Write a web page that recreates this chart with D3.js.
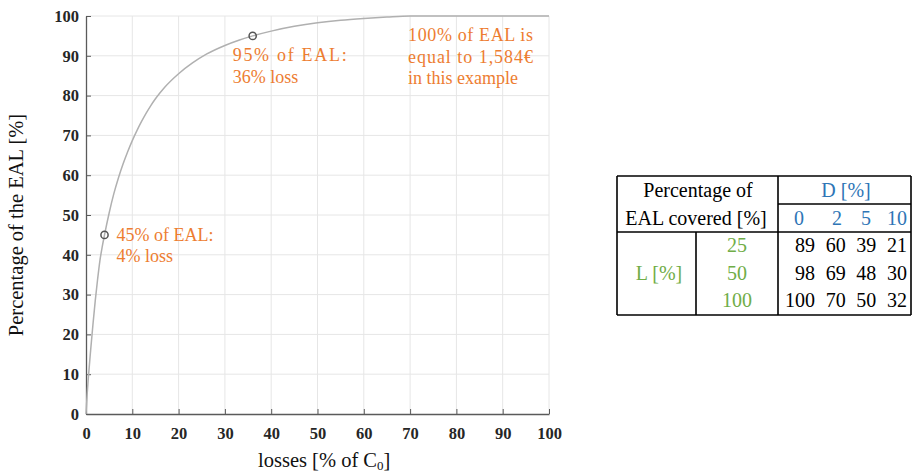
<!DOCTYPE html>
<html>
<head>
<meta charset="utf-8">
<script src="https://cdn.jsdelivr.net/npm/d3@7"></script>
<style>
  html, body { margin: 0; padding: 0; background: #fff; }
  svg { display: block; font-family: "Liberation Serif", "Times New Roman", serif; }
</style>
</head>
<body>
<svg id="chart" width="913" height="475"></svg>
<script>
// Cumulative share of the expected annual loss (EAL) versus loss level
const lossPct = [0, 0.25, 0.5, 1, 1.5, 2, 2.5, 3, 3.5, 4, 5, 6, 7, 8, 9, 10, 11, 12, 13, 14, 15, 17, 20, 23, 26, 30, 33, 36, 40, 45, 50, 55, 60, 65, 70, 80, 90, 100];
const ealPct  = [0, 5, 9, 16, 22.5, 28.5, 33.8, 38.5, 42, 45, 50.5, 55.3, 59.3, 62.8, 65.9, 68.7, 71.2, 73.5, 75.6, 77.5, 79.2, 82.1, 85.5, 88.2, 90.4, 92.6, 93.9, 95, 96.2, 97.4, 98.3, 98.95, 99.4, 99.75, 100, 100, 100, 100];

// Highlighted points and their notes
const markLoss = [4, 36];
const markEal = [45, 95];
const markNotes = [["45% of EAL:", "4% loss"], ["95%  of  EAL:", "36% loss"]];
const totalNote = ["100% of EAL is", "equal  to  1,584€", "in this example"];

const xTicks = [0, 10, 20, 30, 40, 50, 60, 70, 80, 90, 100];
const yTicks = [0, 10, 20, 30, 40, 50, 60, 70, 80, 90, 100];

// Table: share of EAL covered for deductible D and limit L
const dValues = [0, 2, 5, 10];
const lValues = [25, 50, 100];
const covered = [
  [89, 60, 39, 21],
  [98, 69, 48, 30],
  [100, 70, 50, 32]
];

const svg = d3.select("#chart");
const orange = "#ED7D31";
const blue = "#2E75B6";
const green = "#70AD47";

const x = d3.scaleLinear().domain([0, 100]).range([86, 549]);
const y = d3.scaleLinear().domain([0, 100]).range([414, 16]);

// grid
const grid = svg.append("g").attr("stroke", "#e6e6e6").attr("stroke-width", 1);
grid.selectAll("line.v").data(xTicks.filter(d => d > 0)).join("line")
  .attr("x1", d => x(d)).attr("x2", d => x(d))
  .attr("y1", y(0)).attr("y2", y(100));
grid.selectAll("line.h").data(yTicks.filter(d => d > 0)).join("line")
  .attr("x1", x(0)).attr("x2", x(100))
  .attr("y1", d => y(d)).attr("y2", d => y(d));

// axes
const xAxis = svg.append("g").attr("transform", `translate(0,${y(0)})`)
  .call(d3.axisBottom(x).tickValues(xTicks).tickSizeInner(-5).tickSizeOuter(0).tickPadding(13));
const yAxis = svg.append("g").attr("transform", `translate(${x(0)},0)`)
  .call(d3.axisLeft(y).tickValues(yTicks).tickSizeInner(-5).tickSizeOuter(0).tickPadding(7));
[xAxis, yAxis].forEach(a => {
  a.select(".domain").attr("stroke", "#5a5a5a").attr("stroke-width", 1.3);
  a.selectAll(".tick line").attr("stroke", "#5a5a5a").attr("stroke-width", 1);
  a.selectAll(".tick text").attr("fill", "#262626")
    .style("font-family", '"Liberation Serif", "Times New Roman", serif')
    .style("font-weight", "bold");
});
xAxis.selectAll(".tick text").style("font-size", "16.5px");
yAxis.selectAll(".tick text").style("font-size", "16.5px");

// curve
const line = d3.line().x((d, i) => x(lossPct[i])).y((d, i) => y(ealPct[i])).curve(d3.curveMonotoneX);
svg.append("path").datum(lossPct).attr("d", line)
  .attr("fill", "none").attr("stroke", "#b0b0b0").attr("stroke-width", 1.5);

// markers
svg.selectAll("circle.mk").data(markLoss).join("circle")
  .attr("cx", d => x(d)).attr("cy", (d, i) => y(markEal[i])).attr("r", 3.6)
  .attr("fill", "none").attr("stroke", "#555").attr("stroke-width", 1.5);

// annotations
function note(lines, x0, y0, lh, widths) {
  const t = svg.append("text").attr("fill", orange).style("font-size", "18px");
  lines.forEach((s, i) => {
    const ts = t.append("tspan").attr("x", x0).attr("y", y0 + i * lh).text(s);
    if (widths && widths[i]) ts.attr("textLength", widths[i]).attr("lengthAdjust", "spacing");
  });
}
note(markNotes[0], x(markLoss[0]) + 12, 241, 21);
note(markNotes[1], x(markLoss[1]) - 20, 61, 22, [114]);
note(totalNote, 408, 41, 21.5, [125, 125]);

// axis titles
svg.append("text")
  .attr("transform", `translate(23,${(y(0) + y(100)) / 2 + 10}) rotate(-90)`)
  .attr("text-anchor", "middle").style("font-size", "20.5px").attr("fill", "#111")
  .text("Percentage of the EAL [%]");
const xt = svg.append("text").attr("x", 258).attr("y", 467).style("font-size", "20.5px").attr("fill", "#111");
xt.append("tspan").text("losses [% of C");
xt.append("tspan").attr("dy", 3).style("font-size", "13px").text("0");
xt.append("tspan").attr("dy", -3).text("]");

// table
const tb = svg.append("g").style("font-size", "20px");
const T = { left: 617, right: 911, top: 176, mid1: 204, mid2: 232, bottom: 315, colL: 696, colV: 778 };
const rowY = d3.scalePoint().domain(lValues).range([252, 307]);
const colRight = d3.scalePoint().domain(dValues).range([815, 907]);

const lines = [
  [T.left, T.top, T.right, T.top],
  [T.left, T.bottom, T.right, T.bottom],
  [T.left, T.top, T.left, T.bottom],
  [T.right, T.top, T.right, T.bottom],
  [T.colV, T.top, T.colV, T.bottom],
  [T.colV, T.mid1, T.right, T.mid1],
  [T.left, T.mid2, T.right, T.mid2],
  [T.colL, T.mid2, T.colL, T.bottom]
];
tb.selectAll("line").data(lines).join("line")
  .attr("x1", d => d[0]).attr("y1", d => d[1]).attr("x2", d => d[2]).attr("y2", d => d[3])
  .attr("stroke", "#000").attr("stroke-width", 1.6);

tb.append("text").attr("x", 698).attr("y", 197).attr("text-anchor", "middle").attr("fill", "#000").text("Percentage of");
tb.append("text").attr("x", 696).attr("y", 225).attr("text-anchor", "middle").attr("fill", "#000").text("EAL covered [%]");
tb.append("text").attr("x", 846).attr("y", 197).attr("text-anchor", "middle").attr("fill", blue).text("D [%]");
tb.selectAll("text.dh").data(dValues).join("text").attr("class", "dh")
  .attr("x", (d, i) => [799, 837, 866, 897][i]).attr("y", 225).attr("text-anchor", "middle")
  .attr("fill", blue).text(d => d);
tb.append("text").attr("x", 659).attr("y", rowY(50)).attr("text-anchor", "middle").attr("fill", green).text("L [%]");
tb.selectAll("text.lh").data(lValues).join("text").attr("class", "lh")
  .attr("x", 737).attr("y", d => rowY(d)).attr("text-anchor", "middle").attr("fill", green).text(d => d);
covered.forEach((row, r) => {
  tb.selectAll(`text.v${r}`).data(row).join("text").attr("class", `v${r}`)
    .attr("x", (d, i) => colRight(dValues[i])).attr("y", rowY(lValues[r]))
    .attr("text-anchor", "end").attr("fill", "#000").text(d => d);
});
</script>
</body>
</html>
